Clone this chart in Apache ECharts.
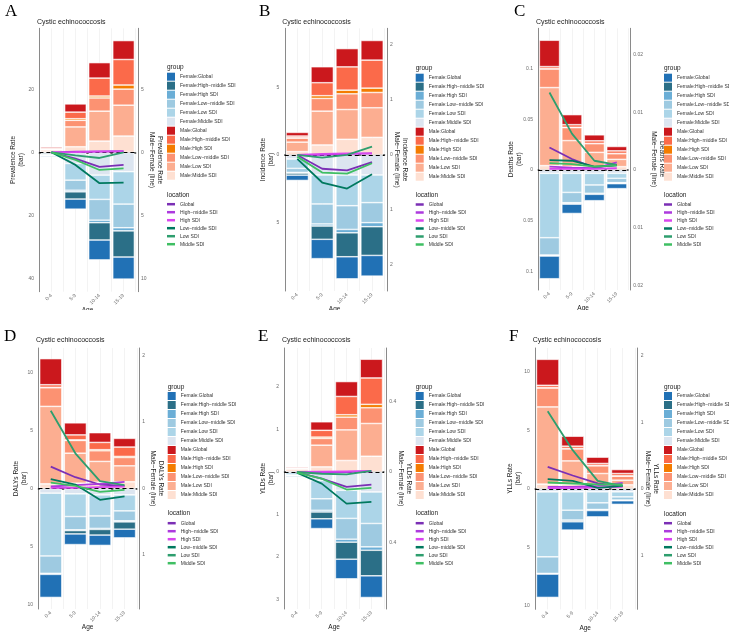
<!DOCTYPE html>
<html>
<head>
<meta charset="utf-8">
<script src="https://cdn.jsdelivr.net/npm/echarts@6.0.0/dist/echarts.min.js"></script>
<style>
  body { margin: 0; background: #fff; }
  #wrap { position: relative; width: 729px; height: 633px; }
  .panel { position: absolute; }
</style>
</head>
<body>
<div id="wrap">
  <div class="panel" id="pA" style="left:0;top:0;width:243px;height:310px"></div>
  <div class="panel" id="pB" style="left:243px;top:0;width:243px;height:310px"></div>
  <div class="panel" id="pC" style="left:486px;top:0;width:243px;height:310px"></div>
  <div class="panel" id="pD" style="left:0;top:310px;width:243px;height:323px"></div>
  <div class="panel" id="pE" style="left:243px;top:310px;width:243px;height:323px"></div>
  <div class="panel" id="pF" style="left:486px;top:310px;width:243px;height:323px"></div>
</div>
<script>
const ageGroups = ['0-4', '5-9', '10-14', '15-19'];
// row order in every matrix below: Global, High-middle, High, Low-middle, Low, Middle SDI
const locations = ['Global', 'High\u2212middle SDI', 'High SDI', 'Low\u2212middle SDI', 'Low SDI', 'Middle SDI'];

const femaleColors = ['#2171b5', '#2b6f87', '#6baed6', '#9ecae1', '#acd5e8', '#dce5f0'];
const maleColors = ['#cb181d', '#fb6a4a', '#f47c00', '#fc9272', '#fcae91', '#fee0d2'];
const lineColors = ['#7b2fb5', '#ad3ade', '#d946ef', '#00795f', '#2e9e6e', '#3fbf63'];

// A - prevalence
const prevalenceMale = [
  [0.4, 2.6, 4.9, 6.0],
  [0.3, 2.1, 5.7, 8.1],
  [0.05, 0.5, 0.6, 1.3],
  [0.2, 2.1, 4.2, 5.1],
  [0.5, 6.3, 9.5, 9.8],
  [0.25, 1.8, 3.6, 5.2]
];
const prevalenceFemale = [
  [0.3, 3.2, 6.3, 7.0],
  [0.1, 2.3, 5.5, 8.3],
  [0.05, 0.5, 0.8, 1.0],
  [0.2, 3.2, 6.6, 7.5],
  [0.5, 5.3, 7.7, 10.3],
  [0.25, 3.5, 7.2, 6.1]
];
const prevalenceDiff = [
  [0, -0.5, -1.15, -1.0],
  [0, 0.05, 0.08, 0.1],
  [0, 0.02, 0.05, 0.08],
  [0, -1.0, -2.45, -2.4],
  [0, -0.25, -0.45, 0],
  [0, -0.6, -1.4, -1.27]
];
const prevalenceTicks = [-40, -20, 0, 20];
const prevalenceDiffTicks = [-10, -5, 0, 5];

// B - incidence
const incidenceMale = [
  [0.27, 1.18, 1.35, 1.45],
  [0.12, 0.96, 1.72, 2.07],
  [0.03, 0.2, 0.27, 0.32],
  [0.3, 0.94, 1.16, 1.13],
  [0.7, 2.5, 2.2, 2.19],
  [0.25, 0.74, 1.16, 1.3]
];
const incidenceFemale = [
  [0.39, 1.43, 1.63, 1.53],
  [0.15, 0.98, 1.77, 2.12],
  [0.05, 0.15, 0.25, 0.3],
  [0.3, 1.48, 1.75, 1.48],
  [0.69, 2.14, 2.27, 2.04],
  [0.3, 1.48, 1.48, 1.48]
];
const incidenceDiff = [
  [0, -0.25, -0.28, -0.13],
  [0, 0, 0.02, 0.03],
  [0, 0.02, 0.03, 0.03],
  [-0.07, -0.5, -0.61, -0.35],
  [0, -0.05, 0, 0.15],
  [-0.03, -0.32, -0.34, -0.15]
];
const incidenceTicks = [-5, 0, 5];
const incidenceDiffTicks = [-2, -1, 0, 1, 2];

// C - deaths
const deathsMale = [
  [0.026, 0.0099, 0.0059, 0.0043],
  [0.002, 0.0026, 0.0026, 0.0026],
  [0.0003, 0.0003, 0.0002, 0.0002],
  [0.0184, 0.0128, 0.0086, 0.0056],
  [0.077, 0.0257, 0.0141, 0.0072],
  [0.0043, 0.0033, 0.0033, 0.0033]
];
const deathsFemale = [
  [0.0224, 0.0092, 0.0063, 0.0049],
  [0.0003, 0.0007, 0.0007, 0.0007],
  [0.0007, 0.0007, 0.0003, 0.0003],
  [0.0171, 0.0102, 0.0082, 0.0043],
  [0.0635, 0.0188, 0.0115, 0.0049],
  [0.0033, 0.0033, 0.0033, 0.0033]
];
const deathsDiff = [
  [0.0039, 0.0019, 0.0004, 0.0009],
  [0.0006, 0.0004, 0.0003, 0.0013],
  [0.0002, 0.0002, 0.0002, 0.0003],
  [0.0017, 0.0016, 0.0006, 0.0008],
  [0.0134, 0.0063, 0.0016, 0.0009],
  [0.0012, 0.001, 0.0006, 0.0008]
];
const deathsTicks = [-0.1, -0.05, 0, 0.05, 0.1];
const deathsDiffTicks = [-0.02, -0.01, 0, 0.01, 0.02];

// D - DALYs
const dalysMale = [
  [2.25, 1.04, 0.84, 0.75],
  [0.23, 0.43, 0.63, 0.81],
  [0.03, 0.05, 0.09, 0.09],
  [1.61, 1.1, 0.92, 0.72],
  [6.69, 2.59, 1.79, 1.38],
  [0.4, 0.46, 0.55, 0.58]
];
const dalysFemale = [
  [1.99, 0.92, 0.89, 0.75],
  [0.03, 0.29, 0.49, 0.63],
  [0.06, 0.06, 0.09, 0.09],
  [1.5, 1.15, 1.07, 0.86],
  [5.42, 1.96, 1.82, 1.38],
  [0.4, 0.46, 0.55, 0.55]
];
const dalysDiff = [
  [0.33, 0.17, 0.06, 0.04],
  [0.03, 0.05, 0.07, 0.1],
  [0.01, 0.01, 0.02, 0.03],
  [0.14, 0.06, -0.17, -0.12],
  [1.17, 0.53, 0.11, 0.05],
  [0.09, 0.04, -0.05, -0.02]
];
const dalysTicks = [-10, -5, 0, 5, 10];
const dalysDiffTicks = [-1, 0, 1, 2];

// E - YLDs
const yldsMale = [
  [0.023, 0.2, 0.35, 0.44],
  [0.008, 0.16, 0.43, 0.62],
  [0.002, 0.03, 0.055, 0.08],
  [0.023, 0.16, 0.3, 0.37],
  [0.04, 0.51, 0.72, 0.77],
  [0.023, 0.12, 0.27, 0.37]
];
const yldsFemale = [
  [0.023, 0.23, 0.46, 0.51],
  [0.008, 0.16, 0.4, 0.6],
  [0.002, 0.04, 0.07, 0.08],
  [0.015, 0.27, 0.49, 0.55],
  [0.055, 0.43, 0.66, 0.74],
  [0.015, 0.2, 0.43, 0.47]
];
const yldsDiff = [
  [0, -0.038, -0.085, -0.072],
  [0, -0.004, 0, 0.004],
  [0, 0.002, 0.004, 0.006],
  [-0.004, -0.066, -0.18, -0.17],
  [0, -0.01, -0.013, 0.006],
  [-0.004, -0.038, -0.1, -0.09]
];
const yldsTicks = [-3, -2, -1, 0, 1, 2];
const yldsDiffTicks = [-0.4, 0, 0.4];

// F - YLLs
const yllsMale = [
  [2.22, 0.85, 0.54, 0.34],
  [0.2, 0.2, 0.17, 0.2],
  [0.03, 0.03, 0.03, 0.03],
  [1.62, 1.03, 0.66, 0.34],
  [6.61, 1.99, 0.91, 0.4],
  [0.4, 0.4, 0.4, 0.34]
];
const yllsFemale = [
  [1.99, 0.71, 0.54, 0.31],
  [0.03, 0.11, 0.06, 0.03],
  [0.03, 0.03, 0.03, 0.02],
  [1.42, 0.85, 0.57, 0.28],
  [5.56, 1.57, 0.94, 0.43],
  [0.26, 0.26, 0.26, 0.26]
];
const yllsDiff = [
  [0.33, 0.2, 0.08, 0.04],
  [0.03, 0.03, 0.045, 0.09],
  [0.01, 0.01, 0.02, 0.03],
  [0.145, 0.12, 0.015, 0.045],
  [1.165, 0.58, 0.12, 0.04],
  [0.095, 0.08, 0.065, 0.065]
];
const yllsTicks = [-10, -5, 0, 5, 10];
const yllsDiffTicks = [-1, 0, 1, 2];

const groupNames = locations.map(l => 'Female:' + l).concat(locations.map(l => 'Male:' + l));

const absFmt = v => String(parseFloat(Math.abs(+v).toPrecision(6)));
const tickLabel = { fontSize: 5, color: '#6b6b6b' };

function makePanel(el, p, g) {
  const chart = echarts.init(el);
  const band = (g.plotR - g.plotL) / 4.2; // ggplot discrete axis: 0.6 padding each side
  const off = band * 0.1;

  const bars = [];
  // negative side: Middle SDI next to zero, Global at the bottom
  for (let i = 5; i >= 0; i--) {
    bars.push({
      name: 'Female:' + locations[i], type: 'bar', stack: 'rate', barCategoryGap: '10%',
      data: p.female[i].map(v => -v),
      itemStyle: { color: femaleColors[i], borderColor: '#fff', borderWidth: 0.6 }
    });
  }
  for (let i = 5; i >= 0; i--) {
    bars.push({
      name: 'Male:' + locations[i], type: 'bar', stack: 'rate', barCategoryGap: '10%',
      data: p.male[i],
      itemStyle: { color: maleColors[i], borderColor: '#fff', borderWidth: 0.6 }
    });
  }
  const lines = locations.map((loc, i) => ({
    name: loc, type: 'line', xAxisIndex: 0, yAxisIndex: 1, data: p.diff[i],
    symbol: 'none', z: 5,
    lineStyle: { width: 1.8, color: lineColors[i] },
    itemStyle: { color: lineColors[i] }
  }));
  lines[0].markLine = {
    silent: true, symbol: 'none', label: { show: false },
    lineStyle: { color: '#000', type: [4, 3], width: 1.2 },
    data: [{ yAxis: 0 }]
  };

  const legendText = { fontSize: 5, color: '#333', lineHeight: 7 };
  const option = {
    animation: false,
    textStyle: { fontFamily: 'Liberation Sans, Arial, sans-serif' },
    title: [
      { text: p.letter, left: g.letterX, top: g.letterY, padding: 0,
        textStyle: { fontFamily: 'Liberation Serif, serif', fontSize: 17, fontWeight: 'normal', color: '#000' } },
      { text: 'Cystic echinococcosis', left: g.plotL, top: g.titleY, padding: 0,
        textStyle: { fontSize: 7, fontWeight: 'normal', color: '#1a1a1a' } },
      { text: 'group', left: g.legX, top: g.groupTitleY, padding: 0,
        textStyle: { fontSize: 6.5, fontWeight: 'normal', color: '#1a1a1a' } },
      { text: 'location', left: g.legX, top: g.locTitleY, padding: 0,
        textStyle: { fontSize: 6.5, fontWeight: 'normal', color: '#1a1a1a' } }
    ],
    legend: [
      { data: groupNames, orient: 'vertical', left: g.legX, top: g.groupLegY, padding: 0,
        icon: 'rect', itemWidth: 8, itemHeight: 8, itemGap: 1, selectedMode: false,
        itemStyle: { borderWidth: 0 }, textStyle: legendText },
      { data: locations, orient: 'vertical', left: g.legX, top: g.locLegY, padding: 0,
        icon: 'rect', itemWidth: 8, itemHeight: 2.5, itemGap: 1, selectedMode: false,
        textStyle: legendText }
    ],
    grid: { left: g.plotL + off, width: band * 4, top: g.top, height: g.bottom - g.top,
      containLabel: false, outerBoundsMode: 'none' },
    xAxis: [
      { type: 'category', data: ageGroups, boundaryGap: true,
        axisLine: { lineStyle: { color: '#333', width: 1.5 } },
        axisTick: { show: false },
        axisLabel: { rotate: 45, fontSize: 5, color: '#6b6b6b', margin: 3 },
        splitLine: { show: false },
        name: 'Age', nameLocation: 'middle', nameGap: 15, nameMoveOverlap: false,
        nameTextStyle: { fontSize: 6.5, color: '#1a1a1a' } },
      // helper axis only for the light vertical grid (band edges and centres)
      { type: 'value', min: 0, max: 8, interval: 1, position: 'bottom',
        axisLine: { show: false }, axisTick: { show: false }, axisLabel: { show: false },
        splitLine: { show: true, lineStyle: { color: '#ebebeb', width: 0.6 } } }
    ],
    yAxis: [
      { type: 'value', min: p.range[0], max: p.range[1], offset: off,
        axisLine: { show: true, lineStyle: { color: '#8a8a8a', width: 1 } },
        axisTick: { show: false, customValues: p.ticks },
        axisLabel: Object.assign({ customValues: p.ticks, formatter: absFmt, margin: 3 }, tickLabel),
        splitLine: { show: false },
        name: p.measure + ' Rate\n(bar)', nameLocation: 'middle', nameRotate: 90, nameGap: g.leftGap,
        nameMoveOverlap: false,
        nameTextStyle: { fontSize: 6.5, color: '#1a1a1a', lineHeight: 8 } },
      { type: 'value', position: 'right', min: p.diffRange[0], max: p.diffRange[1], offset: off,
        axisLine: { show: true, lineStyle: { color: '#8a8a8a', width: 1 } },
        axisTick: { show: false, customValues: p.diffTicks },
        axisLabel: Object.assign({ customValues: p.diffTicks, formatter: absFmt, margin: 3 }, tickLabel),
        splitLine: { show: false },
        name: p.measure + ' Rate\nMale\u2212Female (line)', nameLocation: 'middle', nameRotate: -90, nameGap: g.rightGap,
        nameMoveOverlap: false,
        nameTextStyle: { fontSize: 6.5, color: '#1a1a1a', lineHeight: 8 } }
    ],
    series: bars.concat(lines)
  };
  chart.setOption(option);
}

const rowTop = { titleY: 18.5, top: 28.3, groupTitleY: 63.5, groupLegY: 72.7, locTitleY: 191.5, locLegY: 200.7, letterY: 3 };
const rowBottom = { titleY: 27, top: 38, groupTitleY: 73.5, groupLegY: 82, locTitleY: 199.5, locLegY: 209.7, letterY: 18 };

makePanel(document.getElementById('pA'),
  { letter: 'A', measure: 'Prevalence', male: prevalenceMale, female: prevalenceFemale, diff: prevalenceDiff,
    ticks: prevalenceTicks, diffTicks: prevalenceDiffTicks, range: [-44.2, 39.4], diffRange: [-11.06, 9.84] },
  Object.assign({}, rowTop, { plotL: 37, plotR: 138, bottom: 291.7, letterX: 5, legX: 167, leftGap: 12, rightGap: 10 }));

makePanel(document.getElementById('pB'),
  { letter: 'B', measure: 'Incidence', male: incidenceMale, female: incidenceFemale, diff: incidenceDiff,
    ticks: incidenceTicks, diffTicks: incidenceDiffTicks, range: [-10.05, 9.36], diffRange: [-2.47, 2.3] },
  Object.assign({}, rowTop, { plotL: 39.3, plotR: 144, bottom: 291, letterX: 16, legX: 172.7, leftGap: 7, rightGap: 6,
    groupTitleY: 64.5, groupLegY: 73.7, locLegY: 201 }));

makePanel(document.getElementById('pC'),
  { letter: 'C', measure: 'Deaths', male: deathsMale, female: deathsFemale, diff: deathsDiff,
    ticks: deathsTicks, diffTicks: deathsDiffTicks, range: [-0.1184, 0.1398], diffRange: [-0.02075, 0.0245] },
  Object.assign({}, rowTop, { plotL: 50, plotR: 144.3, bottom: 290, letterX: 28, legX: 178, leftGap: 13, rightGap: 19,
    groupTitleY: 64.5, groupLegY: 73.7, locLegY: 201 }));

makePanel(document.getElementById('pD'),
  { letter: 'D', measure: 'DALYs', male: dalysMale, female: dalysFemale, diff: dalysDiff,
    ticks: dalysTicks, diffTicks: dalysDiffTicks, range: [-10.4, 12.13], diffRange: [-1.814, 2.115] },
  Object.assign({}, rowBottom, { plotL: 36, plotR: 139.3, bottom: 299, letterX: 4, legX: 167.7, leftGap: 8, rightGap: 9 }));

makePanel(document.getElementById('pE'),
  { letter: 'E', measure: 'YLDs', male: yldsMale, female: yldsFemale, diff: yldsDiff,
    ticks: yldsTicks, diffTicks: yldsDiffTicks, range: [-3.22, 2.914], diffRange: [-0.781, 0.707] },
  Object.assign({}, rowBottom, { plotL: 39, plotR: 143.3, bottom: 299, letterX: 15, legX: 172.7, leftGap: 7, rightGap: 10 }));

makePanel(document.getElementById('pF'),
  { letter: 'F', measure: 'YLLs', male: yllsMale, female: yllsFemale, diff: yllsDiff,
    ticks: yllsTicks, diffTicks: yllsDiffTicks, range: [-10.31, 12.05], diffRange: [-1.81, 2.115] },
  Object.assign({}, rowBottom, { plotL: 46.7, plotR: 151.7, bottom: 299.3, letterX: 23, legX: 178, leftGap: 10, rightGap: 6,
    locTitleY: 200.5 }));
</script>
</body>
</html>
